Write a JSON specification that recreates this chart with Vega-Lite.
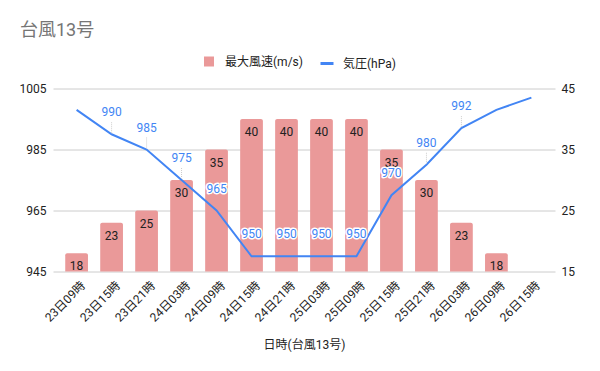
{
  "$schema": "https://vega.github.io/schema/vega-lite/v6.json",
  "width": 502,
  "height": 183,
  "autosize": {"type": "none"},
  "padding": {"left": 53, "top": 88.5, "right": 45, "bottom": 99.5},
  "background": "white",
  "title": {
    "text": "台風13号",
    "anchor": "start",
    "frame": "group",
    "fontSize": 18,
    "fontWeight": "normal",
    "color": "#757575",
    "dx": -33,
    "offset": 16
  },
  "config": {
    "font": "Roboto, Noto Sans CJK JP",
    "view": {"stroke": null},
    "axis": {
      "labelFont": "Roboto, Noto Sans CJK JP",
      "labelFontSize": 12,
      "labelColor": "#222222",
      "titleFont": "Roboto, Noto Sans CJK JP",
      "titleFontSize": 12,
      "titleFontWeight": "normal",
      "titleColor": "#222222",
      "ticks": false,
      "domain": false,
      "gridColor": "#cccccc"
    },
    "legend": {
      "labelFont": "Roboto, Noto Sans CJK JP",
      "labelFontSize": 12,
      "labelColor": "#222222",
      "padding": 0
    }
  },
  "data": {
    "values": [
      {"日時": "23日09時", "最大風速": 18, "気圧": 998},
      {"日時": "23日15時", "最大風速": 23, "気圧": 990},
      {"日時": "23日21時", "最大風速": 25, "気圧": 985},
      {"日時": "24日03時", "最大風速": 30, "気圧": 975},
      {"日時": "24日09時", "最大風速": 35, "気圧": 965},
      {"日時": "24日15時", "最大風速": 40, "気圧": 950},
      {"日時": "24日21時", "最大風速": 40, "気圧": 950},
      {"日時": "25日03時", "最大風速": 40, "気圧": 950},
      {"日時": "25日09時", "最大風速": 40, "気圧": 950},
      {"日時": "25日15時", "最大風速": 35, "気圧": 970},
      {"日時": "25日21時", "最大風速": 30, "気圧": 980},
      {"日時": "26日03時", "最大風速": 23, "気圧": 992},
      {"日時": "26日09時", "最大風速": 18, "気圧": 998},
      {"日時": "26日15時", "最大風速": null, "気圧": 1002}
    ]
  },
  "encoding": {
    "x": {
      "field": "日時",
      "type": "nominal",
      "sort": null,
      "scale": {"paddingInner": 0.35, "paddingOuter": 0.35},
      "axis": {
        "title": "日時(台風13号)",
        "labelAngle": -45,
        "labelPadding": 8,
        "labelOffset": 3,
        "titleY": 73,
        "titleBaseline": "middle",
        "grid": false
      }
    }
  },
  "layer": [
    {
      "transform": [{"filter": "isValid(datum['最大風速'])"}],
      "encoding": {
        "y": {
          "field": "最大風速",
          "type": "quantitative",
          "scale": {"domain": [15, 45], "nice": false, "zero": false},
          "axis": {"orient": "right", "title": null, "values": [15, 25, 35, 45], "grid": false, "labelPadding": 6, "format": "d"}
        }
      },
      "layer": [
        {
          "mark": {"type": "bar", "cornerRadiusTopLeft": 2, "cornerRadiusTopRight": 2},
          "encoding": {
            "y2": {"datum": 15},
            "color": {
              "datum": "最大風速(m/s)",
              "scale": {"range": ["#ea9999"]},
              "legend": {
                "orient": "none",
                "legendX": 150,
                "legendY": -33,
                "title": null,
                "symbolType": "square",
                "symbolSize": 100,
                "symbolStrokeWidth": 0,
                "labelOffset": 10
              }
            }
          }
        },
        {
          "mark": {"type": "text", "baseline": "middle", "dy": 13, "fontSize": 12, "color": "#212121"},
          "encoding": {"text": {"field": "最大風速", "type": "quantitative"}}
        }
      ]
    },
    {
      "encoding": {
        "y": {
          "field": "気圧",
          "type": "quantitative",
          "scale": {"domain": [945, 1005], "nice": false, "zero": false},
          "axis": {"orient": "left", "title": null, "values": [945, 965, 985, 1005], "grid": true, "labelPadding": 7, "format": "d"}
        }
      },
      "layer": [
        {
          "mark": {"type": "line", "strokeWidth": 2},
          "encoding": {
            "stroke": {
              "datum": "気圧(hPa)",
              "scale": {"range": ["#4285f4"]},
              "legend": {
                "orient": "none",
                "legendX": 266,
                "legendY": -33,
                "title": null,
                "symbolType": "stroke",
                "symbolSize": 169,
                "symbolStrokeWidth": 3,
                "labelOffset": 8
              }
            }
          }
        },
        {
          "transform": [{"filter": {"field": "日時", "oneOf": ["23日15時", "23日21時", "24日03時", "25日21時", "26日03時"]}}],
          "mark": {"type": "rule", "color": "#cccccc", "strokeWidth": 1, "strokeDash": [1, 1], "yOffset": -1, "y2Offset": -13},
          "encoding": {"y2": {"field": "気圧"}}
        },
        {
          "transform": [{"filter": {"not": {"field": "日時", "oneOf": ["23日09時", "26日09時", "26日15時"]}}}],
          "mark": {"type": "text", "baseline": "middle", "dy": -22, "fontSize": 12, "color": "white", "stroke": "white", "strokeWidth": 3, "strokeJoin": "round"},
          "encoding": {"text": {"field": "気圧", "type": "quantitative"}}
        },
        {
          "transform": [{"filter": {"not": {"field": "日時", "oneOf": ["23日09時", "26日09時", "26日15時"]}}}],
          "mark": {"type": "text", "baseline": "middle", "dy": -22, "fontSize": 12, "color": "#4285f4"},
          "encoding": {"text": {"field": "気圧", "type": "quantitative"}}
        }
      ]
    }
  ],
  "resolve": {"scale": {"y": "independent", "color": "independent", "stroke": "independent"}}
}
